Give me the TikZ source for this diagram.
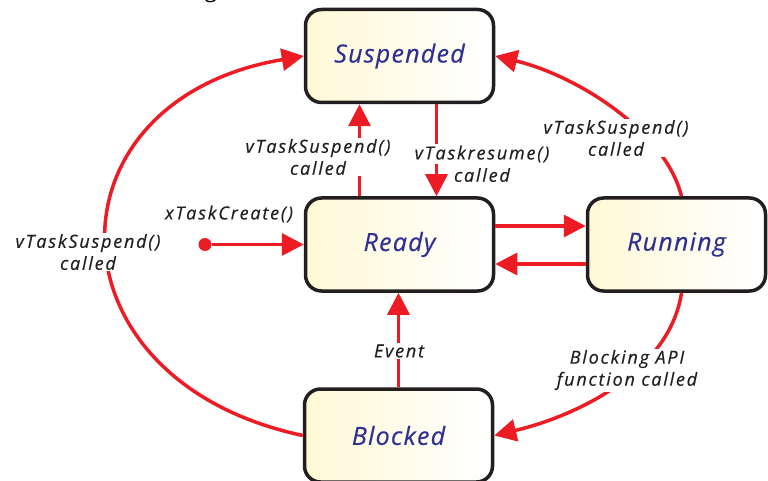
\documentclass[tikz,border=0pt]{standalone}
\usepackage{fontspec}
\usetikzlibrary{arrows.meta}
\newfontfamily\stfont{Open Sans}[LetterSpace=5,FakeBold=0.4]
\newfontfamily\lbfont{Open Sans}[LetterSpace=10,FakeBold=0.4]
\newfontfamily\plainfont{Open Sans}
\definecolor{arrowred}{RGB}{237,28,36}
\definecolor{statetext}{RGB}{46,49,146}
\definecolor{labeltext}{RGB}{35,31,32}
\definecolor{boxline}{RGB}{35,31,32}
\definecolor{boxleft}{RGB}{255,249,214}
\tikzset{
  state/.style={draw=boxline, line width=3.5pt, rounded corners=16pt,
    minimum width=188pt, minimum height=93pt,
    left color=boxleft, right color=white, shading angle=90,
    text=statetext, font=\stfont\itshape\fontsize{25}{30}\selectfont},
  trans/.style={draw=arrowred, line width=3.5pt,
    -{Triangle[length=22pt,width=22pt]}},
  lbl/.style={text=labeltext, align=center, inner sep=1.5pt,
    font=\lbfont\itshape\fontsize{18}{22}\selectfont},
  lblw/.style={lbl, fill=white}
}
\begin{document}
\begin{tikzpicture}[x=1pt,y=-1pt]
\useasboundingbox (0,0) rectangle (768,481);

% descender of a heading above the frame
\node[font=\plainfont\fontsize{22}{26}\selectfont, anchor=base, inner sep=0pt]
  (headfrag) at (211,-2.5) {g};

% states
\node[state] (sus) at (399.5,56) {Suspended};
\node[state] (rdy) at (399.5,244.5) {Ready};
\node[state, minimum width=178pt] (run) at (676.5,244.5) {Running};
\node[state] (blk) at (398.5,435.5) {Blocked};

% task creation
\node[circle, fill=arrowred, inner sep=0pt, minimum size=13pt] (start) at (205,244.5) {};
\draw[trans] (start) -- (rdy.west);

% transitions
\draw[trans] ([xshift=-40pt]rdy.north) -- ([xshift=-40pt]sus.south);
\draw[trans] ([xshift=37pt]sus.south) -- ([xshift=37pt]rdy.north);
\draw[trans] ([yshift=18.5pt]rdy.east) -- ([yshift=18.5pt]run.west);
\draw[trans] ([yshift=-19.5pt]run.west) -- ([yshift=-19.5pt]rdy.east);
\draw[trans] (blk.north) -- (blk.north |- rdy.south);
\draw[trans] (blk.west) .. controls (42,380) and (42,100) .. (sus.west);
\draw[trans] ([xshift=5pt]run.north) .. controls (665,130) and (575,75) .. (sus.east);
\draw[trans] ([xshift=5pt]run.south) .. controls (670,370) and (580,415) .. (blk.east);

% labels (the right-hand one first, so the resume label sits on top of its margin)
\node[lblw] (l3) at (616,138) {vTaskSuspend()\\called};
\node[lblw] (l1) at (318,157) {vTaskSuspend()\\called};
\node[lblw] (l2a) at (482,154) {vTaskresume()};
\node[lbl] (l2b) at (482,175) {called};
\node[lblw] (l4) at (88,252) {vTaskSuspend()\\called};
\node[lbl] (l5) at (229,214) {xTaskCreate()};
\node[lblw] (l6) at (399,351) {Event};
\node[lblw] (l7) at (627,370) {Blocking API\\function called};
\end{tikzpicture}
\end{document}
